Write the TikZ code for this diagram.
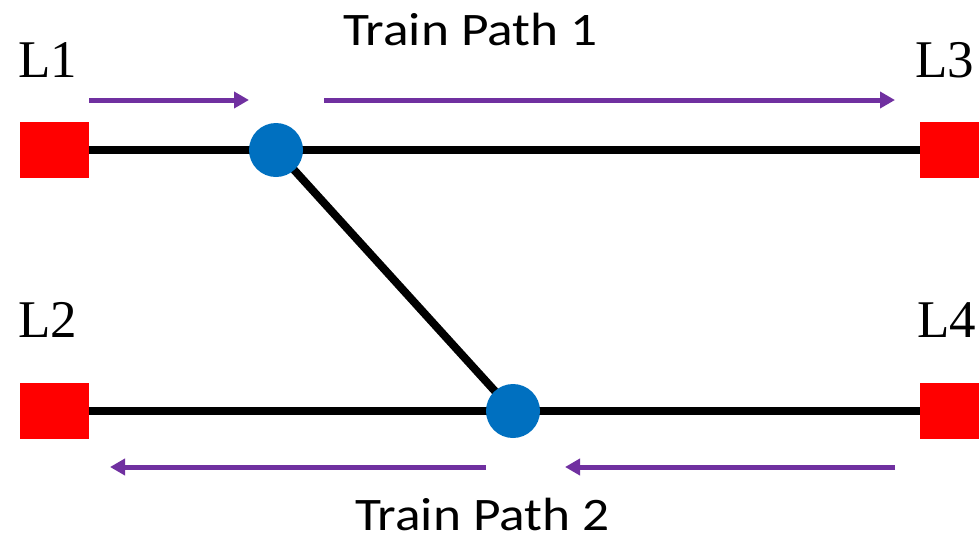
\documentclass[tikz,border=0pt]{standalone}
\usepackage{fontspec}
\setmainfont{Liberation Serif}
\newfontfamily\calib[FakeStretch=1.145]{Carlito}
\usetikzlibrary{arrows.meta,backgrounds}
\definecolor{pur}{HTML}{7030A0}
\definecolor{jblue}{HTML}{0070C0}
\begin{document}
\begin{tikzpicture}[x=1pt,y=-1pt,
  station/.style={rectangle, fill=red, draw=none, minimum width=69pt, minimum height=56pt, inner sep=0pt},
  junction/.style={circle, fill=jblue, draw=none, minimum size=54pt, inner sep=0pt},
  track/.style={line width=8pt},
  patharrow/.style={pur, line width=5pt, -{Triangle[length=15pt,width=16pt]}},
  lbl/.style={font=\fontsize{53}{60}\selectfont, inner sep=0pt, anchor=base west},
  tlbl/.style={font=\calib\fontsize{46.6}{54}\selectfont, inner sep=0pt, text depth=0pt, anchor=base west}]
\useasboundingbox (0,0) rectangle (979,539);
\node[station] (s1) at (54.5,150) {};
\node[station] (s3) at (954.5,150) {};
\node[station] (s2) at (54.5,410.5) {};
\node[station] (s4) at (954.5,410.5) {};
\node[junction] (j1) at (276,150) {};
\node[junction] (j2) at (513,411) {};
\begin{scope}[on background layer]
\draw[track] (s1.east) -- (s3.west);
\draw[track] (s2.east) -- (s4.west);
\draw[track] (j1.center) -- (j2.center);
\end{scope}
\coordinate (a1s) at (89,100);
\coordinate (a1e) at (249,100);
\coordinate (a2s) at (324,100);
\coordinate (a2e) at (895,100);
\coordinate (a3s) at (486,467);
\coordinate (a3e) at (110,467);
\coordinate (a4s) at (895,467);
\coordinate (a4e) at (565,467);
\draw[patharrow] (a1s) -- (a1e);
\draw[patharrow] (a2s) -- (a2e);
\draw[patharrow] (a3s) -- (a3e);
\draw[patharrow] (a4s) -- (a4e);
\node[lbl] (l1) at (18,77) {L1};
\node[lbl] (l3) at (915,77) {L3};
\node[lbl] (l2) at (18,337) {L2};
\node[lbl] (l4) at (917,337) {L4};
\node[tlbl] (tp1) at (343,45) {Train Path 1};
\node[tlbl] (tp2) at (355,530) {Train Path 2};
\end{tikzpicture}
\end{document}
